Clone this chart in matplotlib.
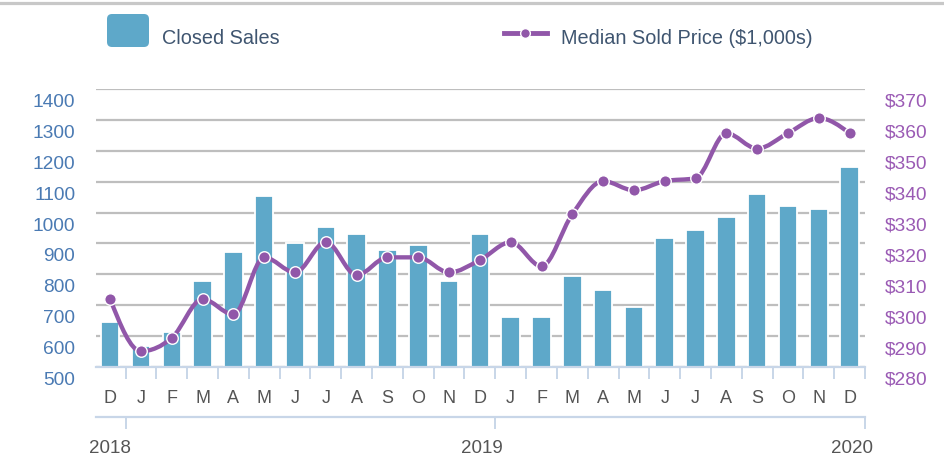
import matplotlib
matplotlib.use('Agg')
import matplotlib.pyplot as plt
import numpy as np
from matplotlib.path import Path
from matplotlib.patches import PathPatch, FancyBboxPatch
from matplotlib.lines import Line2D
from matplotlib.transforms import ScaledTranslation

plt.rcParams['font.family'] = ['Liberation Sans', 'DejaVu Sans']

months = ['D', 'J', 'F', 'M', 'A', 'M', 'J', 'J', 'A', 'S', 'O', 'N',
          'D', 'J', 'F', 'M', 'A', 'M', 'J', 'J', 'A', 'S', 'O', 'N', 'D']
closed_sales = [645, 569, 613, 777, 871, 1053, 903, 953, 929, 879, 896, 777,
                929, 662, 662, 794, 749, 695, 919, 945, 987, 1061, 1021, 1012, 1148]
median_price = [302.0, 285.1, 289.4, 302.0, 297.0, 315.5, 310.6, 320.5, 309.7,
                315.5, 315.5, 310.6, 314.6, 320.4, 312.6, 329.5, 340.2, 337.2,
                340.2, 341.1, 355.7, 350.7, 355.7, 360.6, 355.7]
years = ['2018', '2019', '2020']
year_pos = [0.0, 12.07, 24.08]
year_ticks = [0.5, 12.5, 24.5]
sales_ticks = list(range(500, 1401, 100))
price_ticks = list(range(280, 371, 10))

bar_c = '#5EA8C9'
line_c = '#9157A9'
left_c = '#4A7AB3'
right_c = '#9A5AB4'
axis_c = '#C8D6E8'
grid_c = '#BEBEBE'
text_c = '#555555'

W, H = 945, 456
fig = plt.figure(figsize=(W / 100, H / 100), dpi=100)
ax = fig.add_axes([96 / W, (H - 368) / H, (865 - 96) / W, (368 - 90) / H])
x = np.arange(len(months))

ax.bar(x, closed_sales, width=0.6, color=bar_c, edgecolor='white', linewidth=1.3, zorder=2)
ax.set_xlim(-0.46, 24.5)
ax.set_ylim(500, 1400)
ax.set_axisbelow(True)
ax.set_yticks(sales_ticks)
ax.grid(axis='y', color=grid_c, lw=1.6)
for s in ['top', 'left', 'right']:
    ax.spines[s].set_visible(False)
ax.spines['bottom'].set_color(axis_c)
ax.spines['bottom'].set_linewidth(1.6)

ax.set_xticks(x)
ax.set_xticklabels(months)
ax.tick_params(axis='x', which='major', length=0, pad=16, labelsize=13, labelcolor=text_c)
ax.set_xticks(np.arange(0.5, 25, 1), minor=True)
ax.tick_params(axis='x', which='minor', length=8.6, width=1.4, color=axis_c)
ax.tick_params(axis='y', length=0, pad=15, labelsize=13.8, labelcolor=left_c)

ax2 = ax.twinx()
ax2.set_ylim(280, 370)
ax2.set_yticks(price_ticks)
ax2.set_yticklabels(['$%d' % p for p in price_ticks])
ax2.tick_params(axis='y', length=0, pad=14, labelsize=13.8, labelcolor=right_c)
for s in ax2.spines.values():
    s.set_visible(False)

# smooth monotone curve through the price points
px_ = x.astype(float)
py_ = np.array(median_price)
h = np.diff(px_)
sl = np.diff(py_) / h
t = np.zeros(len(px_))
for i in range(1, len(px_) - 1):
    s0, s1 = sl[i - 1], sl[i]
    p = (s0 * h[i] + s1 * h[i - 1]) / (h[i - 1] + h[i])
    t[i] = (np.sign(s0) + np.sign(s1)) * min(abs(s0), abs(s1), 0.5 * abs(p))
t[0] = (3 * sl[0] - t[1]) / 2
t[-1] = (3 * sl[-1] - t[-2]) / 2
verts = [(px_[0], py_[0])]
codes = [Path.MOVETO]
for i in range(len(px_) - 1):
    d = h[i] / 3
    verts += [(px_[i] + d, py_[i] + d * t[i]), (px_[i + 1] - d, py_[i + 1] - d * t[i + 1]),
              (px_[i + 1], py_[i + 1])]
    codes += [Path.CURVE4] * 3
ax2.add_patch(PathPatch(Path(verts, codes), fill=False, ec=line_c, lw=3.1, capstyle='round',
                        joinstyle='round', zorder=3))
ax2.plot(x, median_price, ls='none', marker='o', ms=8.3, mfc=line_c, mec='white', mew=1, zorder=4)

# shift y tick labels below their gridlines
off = ScaledTranslation(0, -10.5 / 100, fig.dpi_scale_trans)
for lab in ax.get_yticklabels() + ax2.get_yticklabels():
    lab.set_transform(lab.get_transform() + off)

# year axis
axy = fig.add_axes([96 / W, (H - 418) / H, (865 - 96) / W, 1e-4])
axy.set_xlim(ax.get_xlim())
axy.set_yticks([])
axy.patch.set_visible(False)
for s in ['top', 'left', 'right']:
    axy.spines[s].set_visible(False)
axy.spines['bottom'].set_color(axis_c)
axy.spines['bottom'].set_linewidth(1.6)
axy.set_xticks(year_ticks)
axy.set_xticklabels([''] * 3)
axy.tick_params(axis='x', which='major', length=8.6, width=1.4, color=axis_c)
axy.set_xticks(year_pos, minor=True)
axy.set_xticklabels(years, minor=True)
axy.tick_params(axis='x', which='minor', length=0, pad=16, labelsize=13.5, labelcolor=text_c)

# legend and top rule
fig.add_artist(Line2D([0, 1], [1 - 4 / H] * 2, transform=fig.transFigure, color='#C8C8C8', lw=2.3))
fig.add_artist(FancyBboxPatch((1.07, (H - 48) / 100), 0.42, 0.33,
                              boxstyle='round,pad=0,rounding_size=0.05',
                              transform=fig.dpi_scale_trans, fc=bar_c, ec='none'))
fig.text(162 / W, 1 - 38.5 / H, 'Closed Sales', ha='left', va='center', fontsize=14.3, color='#3F5570')
fig.add_artist(Line2D([504 / W, 547 / W], [1 - 34 / H] * 2, transform=fig.transFigure,
                      color=line_c, lw=3.5))
fig.add_artist(Line2D([525.5 / W], [1 - 34 / H], transform=fig.transFigure, ls='none',
                      marker='o', ms=7, mfc=line_c, mec='white', mew=1))
fig.text(561 / W, 1 - 38.5 / H, 'Median Sold Price ($1,000s)', ha='left', va='center',
         fontsize=14.3, color='#3F5570')

fig.savefig('out.png', dpi=100)
